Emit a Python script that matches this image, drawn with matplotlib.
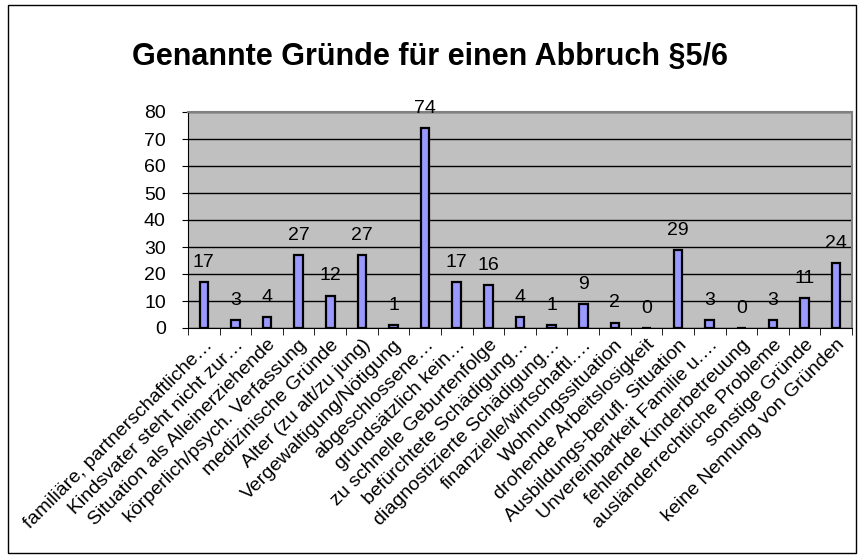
import numpy as np
import matplotlib.pyplot as plt
from matplotlib.patches import Rectangle

plt.rcParams['font.family'] = ['Liberation Sans', 'DejaVu Sans']

categories = [
    'familiäre, partnerschaftliche…',
    'Kindsvater steht nicht zur…',
    'Situation als Alleinerziehende',
    'körperlich/psych. Verfassung',
    'medizinische Gründe',
    'Alter (zu alt/zu jung)',
    'Vergewaltigung/Nötigung',
    'abgeschlossene…',
    'grundsätzlich kein…',
    'zu schnelle Geburtenfolge',
    'befürchtete Schädigung…',
    'diagnostizierte Schädigung…',
    'finanzielle/wirtschaftl.…',
    'Wohnungssituation',
    'drohende Arbeitslosigkeit',
    'Ausbildungs-berufl. Situation',
    'Unvereinbarkeit Familie u.…',
    'fehlende Kinderbetreuung',
    'ausländerrechtliche Probleme',
    'sonstige Gründe',
    'keine Nennung von Gründen',
]
counts = [17, 3, 4, 27, 12, 27, 1, 74, 17, 16, 4, 1, 9, 2, 0, 29, 3, 0, 3, 11, 24]
y_ticks = [0, 10, 20, 30, 40, 50, 60, 70, 80]

fig = plt.figure(figsize=(8.59, 5.58), dpi=100)
# outer chart border
fig.patches.append(Rectangle((0.009, 0.009), 0.987, 0.982, transform=fig.transFigure,
                             fill=False, edgecolor='black', linewidth=1.0))

ax = fig.add_axes([188 / 859, 1 - 328 / 558, (852 - 188) / 859, (328 - 112) / 558])
ax.set_facecolor('#C0C0C0')

x = np.arange(len(categories))
ax.bar(x, counts, width=0.27, color='#9999FF', edgecolor='black', linewidth=1.6, zorder=3)

# value labels above the bars
for xi, v in zip(x, counts):
    ax.annotate(str(v), (xi, v), xytext=(0, 8), textcoords='offset points',
                ha='center', va='bottom', fontsize=14, zorder=4)

ax.set_xlim(-0.5, len(categories) - 0.5)
ax.set_ylim(0, 80)
ax.set_yticks(y_ticks)
ax.yaxis.grid(True, color='black', linewidth=1.0, zorder=1)
ax.set_axisbelow(True)
ax.tick_params(axis='y', labelsize=14, length=4, direction='out', color='black', pad=12)

ax.set_xticks(x)
ax.set_xticklabels(categories, rotation=45, ha='right', rotation_mode='anchor', fontsize=14)
ax.tick_params(axis='x', length=0, pad=6)
ax.set_xticks(np.arange(-0.5, len(categories)), minor=True)
ax.tick_params(axis='x', which='minor', length=5, direction='out', color='black')

for side in ['top', 'right']:
    ax.spines[side].set_color('#808080')
    ax.spines[side].set_linewidth(1.5)
ax.spines['left'].set_color('black')
ax.spines['bottom'].set_color('black')

fig.text(0.5, 1 - 57 / 558, 'Genannte Gründe für einen Abbruch §5/6', ha='center', va='center',
         fontsize=22, fontweight='bold')

fig.savefig('out.png', dpi=100)
